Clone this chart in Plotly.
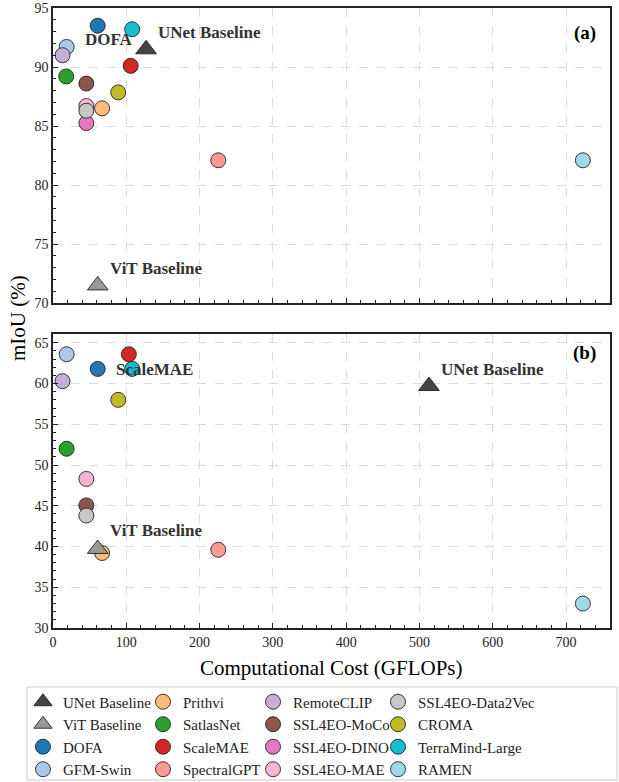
import plotly.graph_objects as go

# ---------------- data ----------------
models = ["UNet Baseline", "ViT Baseline", "DOFA", "GFM-Swin",
          "Prithvi", "SatlasNet", "ScaleMAE", "SpectralGPT",
          "RemoteCLIP", "SSL4EO-MoCo", "SSL4EO-DINO", "SSL4EO-MAE",
          "SSL4EO-Data2Vec", "CROMA", "TerraMind-Large", "RAMEN"]
colors = ["#444444", "#999999", "#1f77b4", "#aec7e8",
          "#ffbb78", "#2ca02c", "#d62728", "#ff9896",
          "#c5b0d5", "#8c564b", "#e377c2", "#f7b6d2",
          "#c7c7c7", "#bcbd22", "#17becf", "#9edae5"]
is_baseline = [True, True] + [False] * 14

# panel (a)
gflops_a = [127, 61, 61, 18.6, 67, 18, 106, 225.5, 13, 45.5, 45.5, 45.5, 45.5, 89, 108, 723]
miou_a = [91.5, 71.5, 93.5, 91.7, 86.5, 89.2, 90.1, 82.1, 91.0, 88.6, 85.25, 86.7, 86.3, 87.85, 93.2, 82.1]
# panel (b)
gflops_b = [513, 61, 61, 18.6, 67, 18.6, 103.5, 225.5, 13, 45.5, None, 45.5, 45.5, 89, 108, 723]
miou_b = [59.7, 39.7, 61.8, 63.6, 39.2, 52.0, 63.6, 39.6, 60.3, 45.05, None, 48.3, 43.8, 58.0, 61.8, 33.0]

x_ticks = [0, 100, 200, 300, 400, 500, 600, 700]
ya_ticks = [70, 75, 80, 85, 90, 95]
yb_ticks = [30, 35, 40, 45, 50, 55, 60, 65]

FONT = "Liberation Serif"
legend_ids = ["legend", "legend2", "legend3", "legend4"]

fig = go.Figure()

draw_order = [i for i in range(len(models)) if not is_baseline[i]] + \
             [i for i in range(len(models)) if is_baseline[i]]

for panel, (gx, gy, xa, ya) in enumerate([(gflops_a, miou_a, "x", "y"),
                                          (gflops_b, miou_b, "x2", "y2")]):
    for i in draw_order:
        if gx[i] is None:
            continue
        col = i // 4
        row = i % 4
        base = is_baseline[i]
        fig.add_trace(go.Scatter(
            x=[gx[i]], y=[gy[i]], xaxis=xa, yaxis=ya,
            mode="markers", name=models[i],
            showlegend=(panel == 0), legend=legend_ids[col], legendrank=row + 1,
            marker=dict(symbol="triangle-up" if base else "circle",
                        size=18 if base else 15, color=colors[i],
                        line=dict(color="#222222", width=0.9)),
        ))

# text labels anchored on points
label_font = dict(family=FONT, size=17, color="#333333")
labels = [
    ("x", "y", gflops_a, miou_a, 0, "UNet Baseline", 10, 17),
    ("x", "y", gflops_a, miou_a, 1, "ViT Baseline", 10, 17),
    ("x", "y", gflops_a, miou_a, 2, "DOFA", -15, -14),
    ("x2", "y2", gflops_b, miou_b, 0, "UNet Baseline", 10, 17),
    ("x2", "y2", gflops_b, miou_b, 1, "ViT Baseline", 10, 18),
    ("x2", "y2", gflops_b, miou_b, 6, "ScaleMAE", -15, -15),
]
for xr, yr, gx, gy, i, txt, dx, dy in labels:
    fig.add_annotation(x=gx[i], y=gy[i], xref=xr, yref=yr, text="<b>%s</b>" % txt,
                       showarrow=False, xanchor="left", yanchor="middle",
                       xshift=dx, yshift=dy, font=label_font)

fig.add_annotation(x=0.978, y=0.915, xref="x domain", yref="y domain", text="<b>(a)</b>",
                   showarrow=False, xanchor="right", yanchor="middle",
                   font=dict(family=FONT, size=19, color="black"))
fig.add_annotation(x=0.978, y=0.935, xref="x2 domain", yref="y2 domain", text="<b>(b)</b>",
                   showarrow=False, xanchor="right", yanchor="middle",
                   font=dict(family=FONT, size=19, color="black"))

# axis titles
fig.add_annotation(x=-0.0628, y=0.5, xref="paper", yref="paper", text="mIoU (%)",
                   textangle=-90, showarrow=False, xanchor="center", yanchor="middle",
                   font=dict(family=FONT, size=21, color="black"))
fig.add_annotation(x=0.5, y=-0.064, xref="paper", yref="paper",
                   text="Computational Cost (GFLOPs)", showarrow=False,
                   xanchor="center", yanchor="middle",
                   font=dict(family=FONT, size=21, color="black"))

# legend frame
fig.add_shape(type="rect", xref="paper", yref="paper", x0=-0.0467, x1=1.0126,
              y0=-0.2452, y1=-0.0952, line=dict(color="#cccccc", width=1),
              fillcolor="rgba(0,0,0,0)")

axis_common = dict(
    showline=True, linecolor="#222222", linewidth=1.5, mirror=True,
    ticks="inside", ticklen=5, tickwidth=1, tickcolor="#222222",
    showgrid=True, gridcolor="#dcdcdc", griddash="dash", gridwidth=0.8,
    zeroline=False, tickfont=dict(family=FONT, size=14, color="#222222"),
)
minor_x = dict(dtick=20, ticks="inside", ticklen=3, tickcolor="#222222", showgrid=False)
minor_y = dict(dtick=1, ticks="inside", ticklen=3, tickcolor="#222222", showgrid=False)

legend_common = dict(orientation="v", xanchor="left", yanchor="top", y=-0.0927,
                     bgcolor="rgba(0,0,0,0)", borderwidth=0, tracegroupgap=0,
                     font=dict(family=FONT, size=15, color="#222222"),
                     itemsizing="trace")
legend_x = [-0.0539, 0.1616, 0.3591, 0.5835]

fig.update_layout(
    width=619, height=782,
    margin=dict(l=53, r=9, t=8, b=154, autoexpand=False),
    plot_bgcolor="white", paper_bgcolor="white",
    font=dict(family=FONT, size=15, color="#222222"),
    xaxis=dict(axis_common, range=[0, 760], tickvals=x_ticks, showticklabels=False,
               anchor="y", domain=[0, 1], minor=minor_x),
    yaxis=dict(axis_common, range=[70, 95], tickvals=ya_ticks, anchor="x",
               domain=[0.524, 1], minor=minor_y),
    xaxis2=dict(axis_common, range=[0, 760], tickvals=x_ticks, anchor="y2", domain=[0, 1],
                minor=minor_x),
    yaxis2=dict(axis_common, range=[30, 66.07], tickvals=yb_ticks, anchor="x2",
                domain=[0, 0.474], minor=minor_y),
    legend=dict(legend_common, x=legend_x[0]),
    legend2=dict(legend_common, x=legend_x[1]),
    legend3=dict(legend_common, x=legend_x[2]),
    legend4=dict(legend_common, x=legend_x[3]),
    showlegend=True,
)

fig.write_html("out.html")
